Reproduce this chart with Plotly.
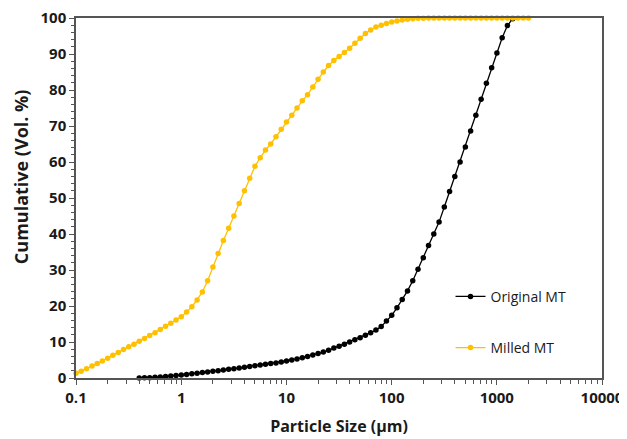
import plotly.graph_objects as go

# Particle size classes (µm) and cumulative volume (%)
milled_size = [0.100, 0.112, 0.126, 0.142, 0.159, 0.178, 0.200, 0.224, 0.252, 0.283,
               0.317, 0.356, 0.399, 0.448, 0.502, 0.564, 0.632, 0.710, 0.796, 0.893,
               1.002, 1.125, 1.262, 1.416, 1.589, 1.783, 2.000, 2.244, 2.518, 2.825,
               3.170, 3.557, 3.991, 4.477, 5.024, 5.637, 6.325, 7.096, 7.962, 8.934,
               10.024, 11.247, 12.619, 14.159, 15.887, 17.825, 20.000, 22.440, 25.179, 28.251,
               31.698, 35.566, 39.905, 44.774, 50.238, 56.368, 63.246, 70.963, 79.621, 89.337,
               100.237, 112.468, 126.191, 141.589, 158.866, 178.250, 200.000, 224.404, 251.785, 282.508,
               316.979, 355.656, 399.052, 447.744, 502.377, 563.677, 632.456, 709.627, 796.214, 893.367,
               1002.374, 1124.683, 1261.915, 1415.892, 1588.656, 1782.502, 2000.000]
milled_cum = [1.3, 1.9, 2.6, 3.3, 4.0, 4.7, 5.5, 6.3, 7.1, 7.9,
              8.7, 9.4, 10.2, 11.0, 11.8, 12.6, 13.5, 14.4, 15.2, 16.1,
              17.0, 18.3, 19.8, 21.7, 23.9, 27.0, 30.8, 34.6, 38.2, 41.6,
              45.0, 48.5, 52.0, 55.5, 58.8, 61.2, 63.3, 65.0, 67.0, 69.1,
              71.1, 73.0, 75.0, 77.0, 78.7, 80.8, 83.0, 85.0, 86.8, 88.2,
              89.3, 90.4, 91.6, 93.0, 94.4, 95.7, 96.7, 97.5, 98.0, 98.5,
              98.9, 99.2, 99.45, 99.65, 99.8, 99.9, 99.95, 100, 100, 100,
              100, 100, 100, 100, 100, 100, 100, 100, 100, 100,
              100, 100, 100, 100, 100, 100, 100]

original_size = [0.399, 0.448, 0.502, 0.564, 0.632, 0.710, 0.796, 0.893,
                 1.002, 1.125, 1.262, 1.416, 1.589, 1.783, 2.000, 2.244, 2.518, 2.825,
                 3.170, 3.557, 3.991, 4.477, 5.024, 5.637, 6.325, 7.096, 7.962, 8.934,
                 10.024, 11.247, 12.619, 14.159, 15.887, 17.825, 20.000, 22.440, 25.179, 28.251,
                 31.698, 35.566, 39.905, 44.774, 50.238, 56.368, 63.246, 70.963, 79.621, 89.337,
                 100.237, 112.468, 126.191, 141.589, 158.866, 178.250, 200.000, 224.404, 251.785, 282.508,
                 316.979, 355.656, 399.052, 447.744, 502.377, 563.677, 632.456, 709.627, 796.214, 893.367,
                 1002.374, 1124.683, 1261.915, 1415.892]
original_cum = [0.0, 0.05, 0.1, 0.2, 0.3, 0.4, 0.55, 0.7,
                0.85, 1.0, 1.2, 1.35, 1.5, 1.7, 1.85, 2.0, 2.2, 2.4,
                2.6, 2.8, 3.0, 3.2, 3.4, 3.6, 3.8, 4.0, 4.2, 4.45,
                4.7, 5.0, 5.3, 5.65, 6.0, 6.4, 6.8, 7.2, 7.7, 8.3,
                8.8, 9.4, 10.0, 10.6, 11.2, 11.9, 12.6, 13.3, 14.3, 15.8,
                17.4, 19.5, 21.8, 24.2, 27.0, 30.2, 33.4, 36.8, 40.0, 43.3,
                47.5, 51.8, 56.0, 60.0, 64.2, 68.6, 73.0, 77.4, 81.9, 86.2,
                90.3, 94.5, 97.9, 99.8]

x_tickvals = [0.1, 1, 10, 100, 1000, 10000]
x_ticktext = ["0.1", "1", "10", "100", "1000", "10000"]
y_tickvals = [0, 10, 20, 30, 40, 50, 60, 70, 80, 90, 100]

FONT = "Open Sans"
AXIS_COLOR = "#555555"
TEXT_COLOR = "#1a1a1a"

fig = go.Figure()
fig.add_trace(go.Scatter(
    x=original_size, y=original_cum, name="Original MT", mode="lines+markers",
    line=dict(color="#000000", width=1.3), marker=dict(color="#000000", size=5.5),
    cliponaxis=False, legendgroup="a"))
fig.add_trace(go.Scatter(
    x=milled_size, y=milled_cum, name="Milled MT", mode="lines+markers",
    line=dict(color="#FFC000", width=1.3), marker=dict(color="#FFC000", size=5.5),
    cliponaxis=False, legendgroup="b"))

fig.update_layout(
    width=619, height=431,
    margin=dict(l=68, r=25, t=10, b=61, autoexpand=False),
    paper_bgcolor="white", plot_bgcolor="white",
    font=dict(family=FONT, color=TEXT_COLOR),
    showlegend=True,
    legend=dict(x=0.712, y=0.27, xanchor="left", yanchor="top",
                bgcolor="rgba(0,0,0,0)", tracegroupgap=30,
                font=dict(size=14, family=FONT, color=TEXT_COLOR),
                itemwidth=30),
    xaxis=dict(type="log", range=[-1, 4], automargin=False, ticklabeloverflow="allow",
               tickvals=x_tickvals, ticktext=x_ticktext,
               ticks="outside", ticklen=5, tickcolor=AXIS_COLOR,
               showline=True, linecolor=AXIS_COLOR, linewidth=1.5, mirror=True,
               showgrid=False, zeroline=False,
               minor=dict(ticks="outside", ticklen=4, tickcolor=AXIS_COLOR, showgrid=False,
                          tickvals=[v * m for v in [0.1, 1, 10, 100, 1000] for m in range(2, 10)]),
               tickfont=dict(size=15, family=FONT, weight="bold", color=TEXT_COLOR),
               title=dict(text="Particle Size (µm)", standoff=15,
                          font=dict(size=16, family=FONT, weight="bold", color=TEXT_COLOR))),
    yaxis=dict(range=[0, 100], tickvals=y_tickvals, automargin=False, ticklabeloverflow="allow",
               ticks="outside", ticklen=5, tickcolor=AXIS_COLOR,
               showline=True, linecolor=AXIS_COLOR, linewidth=1.5, mirror=True,
               showgrid=False, zeroline=False,
               minor=dict(ticks="outside", ticklen=3, dtick=2, tickcolor=AXIS_COLOR, showgrid=False),
               tickfont=dict(size=15, family=FONT, weight="bold", color=TEXT_COLOR)),
    annotations=[dict(text="Cumulative (Vol. %)", textangle=-90, showarrow=False,
                      xref="paper", yref="paper", x=-0.1045, y=0.558,
                      xanchor="center", yanchor="middle",
                      font=dict(size=18, family=FONT, weight="bold", color=TEXT_COLOR))],
)

fig.write_html("out.html")
